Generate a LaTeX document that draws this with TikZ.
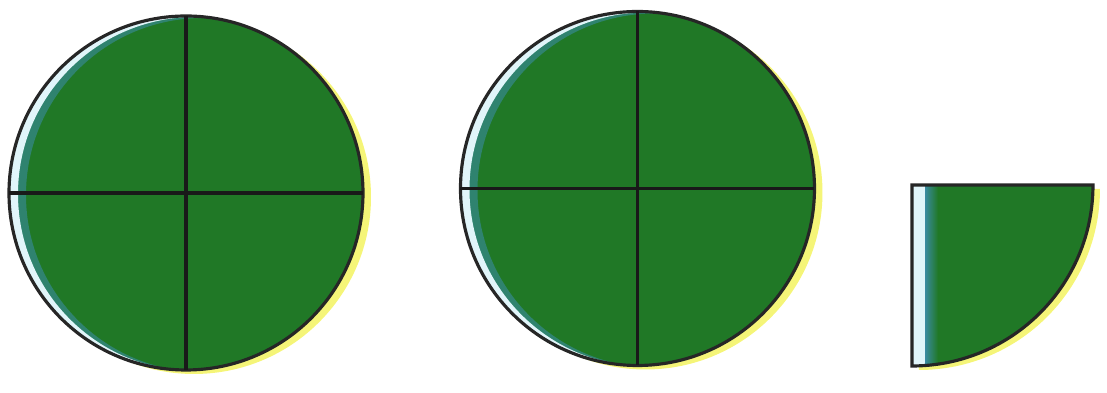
\documentclass[tikz,border=0pt]{standalone}
\usepackage{tikz}
\usetikzlibrary{calc}

\definecolor{leafgreen}{RGB}{32,120,38}
\definecolor{glarewhite}{RGB}{225,245,250}
\definecolor{glareblue}{RGB}{60,140,170}
\definecolor{glowyellow}{RGB}{245,245,120}

\begin{document}
\begin{tikzpicture}[
		rim/.style={draw=black!85,line width=0.9pt},
		cut/.style={draw=black!90,line width=1.1pt},
		glow/.style={fill=glowyellow},
		glare/.style={fill=glarewhite},
		glareinner/.style={fill=glareblue!55!leafgreen}
		]
		\useasboundingbox (0,0) rectangle (11.07,3.93);
		\def\rad{1.77}
		\def\qrad{1.81}
		\coordinate (c1) at (1.86,2.00);
		\coordinate (c2) at (6.375,2.045);
		\coordinate (q) at (9.12,2.08);
		
		% the two whole disks
		\foreach \c in {c1,c2}{
			\fill[glow] ($(\c)+(0.08,-0.04)$) circle (\rad);
			\fill[leafgreen] (\c) circle (\rad);
			\begin{scope}
				\clip (\c) circle (\rad);
				\fill[glareinner,even odd rule] (\c) circle (\rad) ($(\c)+(0.17,-0.02)$) circle (\rad);
				\fill[glare,even odd rule] (\c) circle (\rad) ($(\c)+(0.09,-0.01)$) circle (\rad);
			\end{scope}
			\draw[rim] (\c) circle (\rad);
			\coordinate (\c n) at ($(\c)+(0,\rad)$);
			\coordinate (\c s) at ($(\c)+(0,-\rad)$);
			\coordinate (\c w) at ($(\c)+(-\rad,0)$);
			\coordinate (\c e) at ($(\c)+(\rad,0)$);
			\draw[cut] (\c n) -- (\c s);
			\draw[cut] (\c w) -- (\c e);
		}
		
		% the quarter piece
		\coordinate (qe) at ($(q)+(\qrad,0)$);
		\coordinate (qs) at ($(q)+(0,-\qrad)$);
		\fill[glow] ($(q)+(0.07,-0.04)$) -- ++(\qrad,0) arc (0:-90:\qrad) -- cycle;
		\fill[leafgreen] (q) -- (qe) arc (0:-90:\qrad) -- cycle;
		\begin{scope}
			\clip (q) -- (qe) arc (0:-90:\qrad) -- cycle;
			\shade[left color=glareblue,right color=leafgreen] ($(q)+(0.12,0)$) rectangle ($(qs)+(0.26,0)$);
			\fill[glare] (q) rectangle ($(qs)+(0.13,0)$);
		\end{scope}
		\draw[rim] (q) -- (qe) arc (0:-90:\qrad) -- cycle;
\end{tikzpicture}
\end{document}
